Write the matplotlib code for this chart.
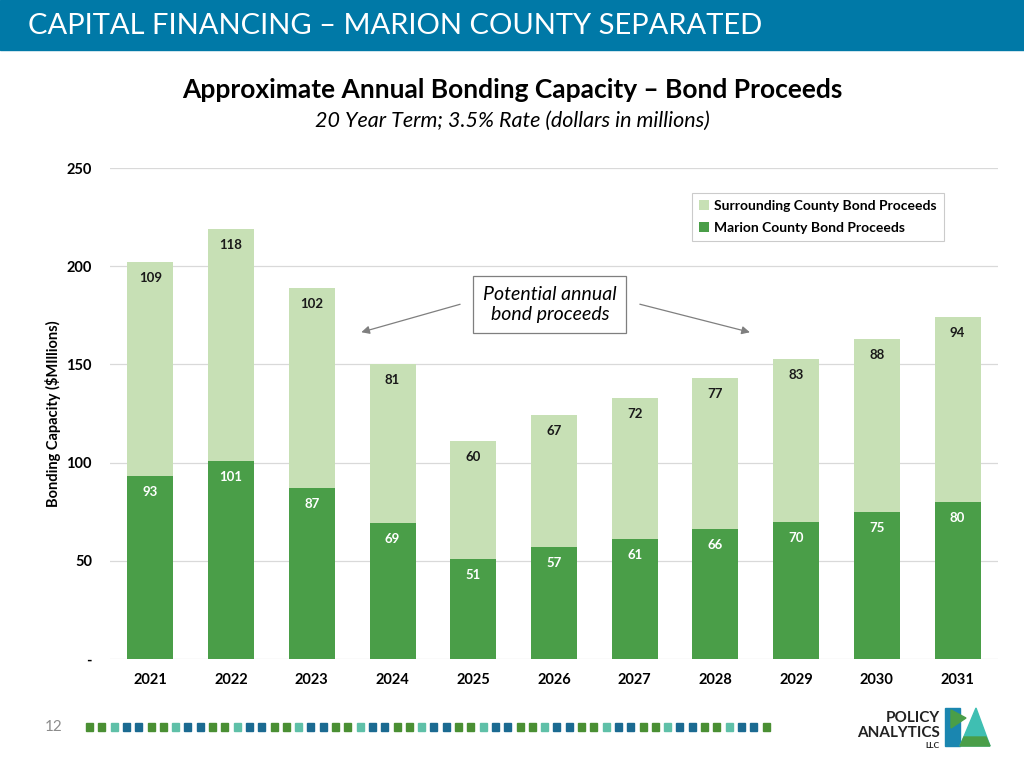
import numpy as np
import matplotlib.pyplot as plt
from matplotlib.patches import Rectangle, Polygon

years = ['2021', '2022', '2023', '2024', '2025', '2026', '2027', '2028', '2029', '2030', '2031']
marion = [93, 101, 87, 69, 51, 57, 61, 66, 70, 75, 80]
surrounding = [109, 118, 102, 81, 60, 67, 72, 77, 83, 88, 94]
yticks = [0, 50, 100, 150, 200, 250]
ytick_labels = ['-', '50', '100', '150', '200', '250']

dark_green = '#4A9E48'
light_green = '#C7E0B5'
header_blue = '#0079A7'

plt.rcParams['font.family'] = ['Lato', 'DejaVu Sans']

fig = plt.figure(figsize=(10.24, 7.68), dpi=100)
fig.patch.set_color('white')

# header band
fig.patches.append(Rectangle((0, 1 - 50 / 768), 1, 50 / 768, transform=fig.transFigure,
                             color=header_blue, zorder=0))
fig.text(28 / 1024, 1 - 26 / 768, 'CAPITAL FINANCING \u2013 MARION COUNTY SEPARATED',
         color='white', fontsize=21, va='center', ha='left')

fig.text(512 / 1024, 1 - 90 / 768, 'Approximate Annual Bonding Capacity \u2013 Bond Proceeds',
         fontsize=19, fontweight='bold', ha='center', va='center')
fig.text(512 / 1024, 1 - 121 / 768, '20 Year Term; 3.5% Rate (dollars in millions)',
         fontsize=15.5, style='italic', ha='center', va='center')

ax = fig.add_axes([110 / 1024, 1 - 659 / 768, 888 / 1024, 491 / 768])
x = np.arange(len(years))
w = 0.57
ax.bar(x, marion, w, color=dark_green, label='Marion County Bond Proceeds', zorder=3)
ax.bar(x, surrounding, w, bottom=marion, color=light_green,
       label='Surrounding County Bond Proceeds', zorder=3)

for i in range(len(years)):
    ax.annotate(str(marion[i]), (x[i], marion[i]), xytext=(0, -16), textcoords='offset pixels',
                ha='center', va='center', fontsize=9.5, fontweight='bold', color='white')
    top = marion[i] + surrounding[i]
    ax.annotate(str(surrounding[i]), (x[i], top), xytext=(0, -16), textcoords='offset pixels',
                ha='center', va='center', fontsize=9.5, fontweight='bold', color='#1a1a1a')

ax.set_xlim(-0.5, 10.5)
ax.set_ylim(0, 250)
ax.set_yticks(yticks)
ax.set_yticklabels(ytick_labels)
ax.set_xticks(x)
ax.set_xticklabels(years)
ax.tick_params(length=0, labelsize=10.5)
ax.tick_params(axis='x', pad=10)
ax.tick_params(axis='y', pad=13)
for lab in ax.get_xticklabels() + ax.get_yticklabels():
    lab.set_fontweight('bold')
ax.grid(axis='y', color='#d9d9d9', lw=0.9, zorder=0)
for s in ax.spines.values():
    s.set_visible(False)
ax.set_ylabel('Bonding Capacity ($MIllions)', fontsize=10.5, fontweight='bold', labelpad=4)

handles, labels = ax.get_legend_handles_labels()
leg = ax.legend(handles[::-1], labels[::-1], loc='upper right', borderaxespad=0,
                bbox_to_anchor=((944 - 110) / 888, 1 - (193 - 168) / 491),
                fontsize=10, frameon=True, fancybox=False, edgecolor='#bfbfbf',
                handlelength=0.7, handleheight=0.7, handletextpad=0.4, borderpad=0.5, labelspacing=0.7)
for t in leg.get_texts():
    t.set_fontweight('bold')
leg.get_frame().set_linewidth(0.8)

# callout
ax.text(4.95, 180.5, 'Potential annual\nbond proceeds', ha='center', va='center', fontsize=14,
        style='italic', linespacing=1.25, zorder=6,
        bbox=dict(boxstyle='square,pad=0.5', fc='white', ec='#7f7f7f', lw=0.9))
arrow = dict(arrowstyle='-|>', color='#7f7f7f', lw=0.9, mutation_scale=12)
ax.annotate('', xy=(2.58, 166), xytext=(3.87, 181), arrowprops=arrow, zorder=5)
ax.annotate('', xy=(7.46, 166), xytext=(6.03, 181), arrowprops=arrow, zorder=5)

# footer
fig.text(45 / 1024, 1 - 727 / 768, '12', color='#8c8c8c', fontsize=11, va='center')
sq_colors = ['#4A8F33', '#4A8F33', '#5FC0A8', '#1B6A91', '#1B6A91']
n_sq = 56
for k in range(n_sq):
    px = 86 + k * 12.3
    fig.patches.append(Rectangle((px / 1024, 1 - 731 / 768), 7 / 1024, 8 / 768,
                                 transform=fig.transFigure, color=sq_colors[k % 5]))

# logo
fig.text(940 / 1024, 1 - 718 / 768, 'POLICY', fontsize=11, ha='right', va='center', fontweight='bold',
         color='#222222')
fig.text(940 / 1024, 1 - 733 / 768, 'ANALYTICS', fontsize=11, ha='right', va='center',
         fontweight='bold', color='#222222')
fig.text(940 / 1024, 1 - 746 / 768, 'LLC', fontsize=6, ha='right', va='center', fontweight='bold',
         color='#222222')
fig.patches.append(Polygon([(945 / 1024, 1 - 708 / 768), (960 / 1024, 1 - 708 / 768),
                            (960 / 1024, 1 - 746 / 768), (945 / 1024, 1 - 746 / 768)],
                           closed=True, transform=fig.transFigure, color='#1A86B0'))
fig.patches.append(Polygon([(951 / 1024, 1 - 710 / 768), (966 / 1024, 1 - 718 / 768),
                            (951 / 1024, 1 - 728 / 768)],
                           closed=True, transform=fig.transFigure, color='#4A9E48'))
fig.patches.append(Polygon([(960 / 1024, 1 - 746 / 768), (976 / 1024, 1 - 708 / 768),
                            (990 / 1024, 1 - 746 / 768)],
                           closed=True, transform=fig.transFigure, color='#3FBFB2'))
fig.patches.append(Polygon([(964 / 1024, 1 - 737 / 768), (986 / 1024, 1 - 737 / 768),
                            (990 / 1024, 1 - 746 / 768), (960 / 1024, 1 - 746 / 768)],
                           closed=True, transform=fig.transFigure, color='#4A9E48'))

fig.savefig('out.png', dpi=100)
